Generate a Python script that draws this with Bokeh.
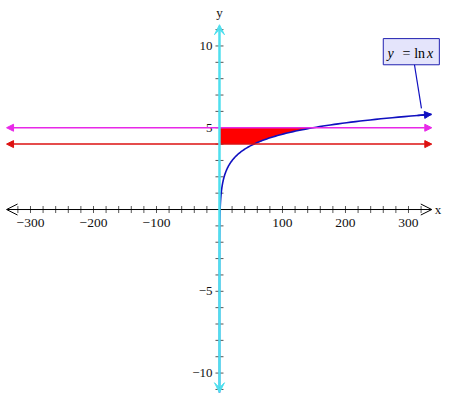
import numpy as np
from bokeh.plotting import figure
from bokeh.models import Range1d, Arrow, OpenHead, NormalHead, VeeHead
from bokeh.core.properties import value
from bokeh.embed import file_html
from bokeh.resources import INLINE

# ---- data ----
x_major_ticks = [-300, -200, -100, 100, 200, 300]
x_major_labels = ["\u2212300", "\u2212200", "\u2212100", "100", "200", "300"]
x_minor_ticks = [v for v in range(-320, 321, 20) if v % 100 != 0]
y_major_ticks = [-10, -5, 5, 10]
y_major_labels = ["\u221210", "\u22125", "5", "10"]
y_minor_ticks = [v for v in range(-11, 12) if v % 5 != 0]
h_line_levels = [5, 4]
h_line_colors = ["#e828e8", "#dd1010"]
x_axis_ends = [-338, 337]
y_axis_ends = [-11.2, 11.3]
curve_x = np.geomspace(np.exp(-11.2), 336.5, 500)
curve_y = np.log(curve_x)
fill_y = np.linspace(4, 5, 60)
fill_x2 = np.exp(fill_y)

FONT = value("Liberation Serif")

p = figure(width=442, height=394, x_range=Range1d(-347.6, 354.0), y_range=Range1d(-11.31, 12.78),
           output_backend="svg", toolbar_location=None, min_border=0,
           x_axis_location=None, y_axis_location=None, outline_line_color=None)
p.grid.visible = False
p.background_fill_color = "white"

# filled region
p.harea(y=fill_y, x1=0, x2=fill_x2, fill_color="#ff0000", fill_alpha=1)

# x axis
p.add_layout(Arrow(x_start=x_axis_ends[0], y_start=0, x_end=x_axis_ends[1], y_end=0,
                   line_color="black", line_width=1,
                   start=OpenHead(size=11, line_color="black", line_width=1),
                   end=OpenHead(size=11, line_color="black", line_width=1)))
all_x_ticks = x_minor_ticks + x_major_ticks
p.scatter(x=all_x_ticks, y=[0]*len(all_x_ticks), marker="dash", size=7, angle=np.pi/2,
          line_color="#555555", line_width=1)
p.text(x=x_major_ticks, y=[0]*len(x_major_ticks), text=x_major_labels, text_font=FONT,
       text_font_size="13.5px", text_align="center", text_baseline="top", y_offset=9, text_color="#111111")
p.text(x=[x_axis_ends[1]], y=[0], text=["x"], text_font=FONT, text_font_size="13px",
       text_align="left", text_baseline="middle", x_offset=3, text_color="#111111")

# horizontal lines
for lvl, col in zip(h_line_levels, h_line_colors):
    p.add_layout(Arrow(x_start=x_axis_ends[0], y_start=lvl, x_end=x_axis_ends[1], y_end=lvl,
                       line_color=col, line_width=1.5,
                       start=NormalHead(size=7, fill_color=col, line_color=col),
                       end=NormalHead(size=7, fill_color=col, line_color=col)))

# y axis
p.add_layout(Arrow(x_start=0, y_start=y_axis_ends[0], x_end=0, y_end=y_axis_ends[1],
                   line_color="#4fdfee", line_width=2.5,
                   start=VeeHead(size=10, fill_color="#4fdfee", line_color="#4fdfee"),
                   end=VeeHead(size=10, fill_color="#4fdfee", line_color="#4fdfee")))
all_y_ticks = y_minor_ticks + y_major_ticks
p.scatter(x=[0]*len(all_y_ticks), y=all_y_ticks, marker="dash", size=8,
          line_color="#555555", line_width=1)
p.text(x=[0]*len(y_major_ticks), y=y_major_ticks, text=y_major_labels, text_font=FONT,
       text_font_size="13px", text_align="right", text_baseline="middle", x_offset=-7, text_color="#111111")
p.text(x=[0], y=[y_axis_ends[1]], text=["y"], text_font=FONT, text_font_size="13px",
       text_align="center", text_baseline="bottom", y_offset=-5, text_color="#111111")

# curve
p.line(curve_x, curve_y, line_color="#1010c0", line_width=1.6)
p.add_layout(Arrow(x_start=curve_x[-3], y_start=curve_y[-3], x_end=curve_x[-1], y_end=curve_y[-1],
                   line_color="#1010c0", line_width=1.6,
                   end=NormalHead(size=7, fill_color="#1010c0", line_color="#1010c0")))

# label box
p.quad(left=[260], right=[349], top=[10.45], bottom=[8.85],
       fill_color="#e4e4fb", fill_alpha=1, line_color="#2020b0", line_width=1)
p.segment(x0=[309.5], y0=[8.85], x1=[320.6], y1=[6.18], line_color="#1010c0", line_width=1.2)
p.text(x=[266.7], y=[9.55], text=["y"], text_font=FONT, text_font_style="italic", text_font_size="14px",
       text_align="left", text_baseline="middle", text_color="black")
p.text(x=[290.5], y=[9.55], text=["="], text_font=FONT, text_font_size="14px",
       text_align="left", text_baseline="middle", text_color="black")
p.text(x=[309.0], y=[9.55], text=["ln"], text_font=FONT, text_font_size="14px",
       text_align="left", text_baseline="middle", text_color="black")
p.text(x=[329.5], y=[9.55], text=["x"], text_font=FONT, text_font_style="italic", text_font_size="14px",
       text_align="left", text_baseline="middle", text_color="black")

open("out.html", "w").write(file_html(p, INLINE))
